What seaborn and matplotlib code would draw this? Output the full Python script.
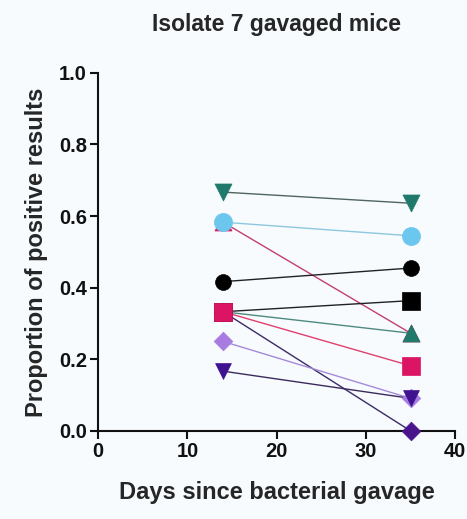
import numpy as np
import pandas as pd
import seaborn as sns
import matplotlib.pyplot as plt

# --- DATOS ---
days = [14, 35]
mice = ['M1', 'M2', 'M3', 'M4', 'M6', 'M5', 'M7', 'M8', 'M9', 'M10']
proportions = [
    [0.583, 0.273],   # M1 carmesí, triángulo
    [0.333, 0.000],   # M2 morado oscuro, rombo
    [0.333, 0.273],   # M3 verde azulado, triángulo
    [0.333, 0.364],   # M4 negro, cuadrado
    [0.250, 0.091],   # M6 lavanda, rombo
    [0.167, 0.091],   # M5 morado, triángulo invertido
    [0.417, 0.455],   # M7 negro, círculo
    [0.583, 0.545],   # M8 celeste, círculo
    [0.667, 0.636],   # M9 verde azulado, triángulo invertido
    [0.333, 0.182],   # M10 carmesí, cuadrado
]
marker_colors = ['#d81b60', '#4a148c', '#1f7a6c', '#000000', '#a77be0',
                 '#3f1390', '#000000', '#6cc7ef', '#1f7a6c', '#dc1464']
line_colors = ['#c2406e', '#3b2a66', '#4f8a80', '#222222', '#a58ad8',
               '#3c2a5c', '#222222', '#8cc8e0', '#506560', '#e0406e']
marker_styles = ['^', 'D', '^', 's', 'D', 'v', 'o', 'o', 'v', 's']
marker_sizes = [150, 90, 150, 150, 90, 130, 130, 170, 150, 170]

df = pd.DataFrame({
    'mouse': np.repeat(mice, len(days)),
    'day': days * len(mice),
    'prop': np.ravel(proportions),
})

sns.set_style('ticks')
plt.rcParams['font.family'] = ['Liberation Sans', 'DejaVu Sans']

fig = plt.figure(figsize=(4.67, 5.19), dpi=100, facecolor='#f7fbfd')
ax = fig.add_axes([0.21, 0.1696, 0.765, 0.69])
ax.set_facecolor('#f7fbfd')

for i, m in enumerate(mice):
    sub = df[df['mouse'] == m]
    sns.lineplot(data=sub, x='day', y='prop', ax=ax, color=line_colors[i],
                 linewidth=1.0, zorder=2 + i)
    sns.scatterplot(data=sub, x='day', y='prop', ax=ax, color=marker_colors[i],
                    marker=marker_styles[i], s=marker_sizes[i],
                    edgecolor=marker_colors[i], linewidth=0.5, zorder=20 + i,
                    clip_on=False)

ax.set_xlim(0, 40)
ax.set_ylim(0, 1.0)
ax.set_xticks([0, 10, 20, 30, 40])
ax.set_yticks([0, 0.2, 0.4, 0.6, 0.8, 1.0])
ax.set_yticklabels(['0.0', '0.2', '0.4', '0.6', '0.8', '1.0'])
sns.despine(ax=ax)
for s in ['left', 'bottom']:
    ax.spines[s].set_linewidth(1.5)
    ax.spines[s].set_color('#111111')
ax.tick_params(width=1.5, length=6, labelsize=14.5, colors='#111111', pad=2)
for lab in ax.get_xticklabels() + ax.get_yticklabels():
    lab.set_fontweight('bold')

ax.set_xlabel('Days since bacterial gavage', fontsize=17, fontweight='bold', labelpad=14)
ax.set_ylabel('Proportion of positive results', fontsize=17, fontweight='bold', labelpad=8)
ax.set_title('Isolate 7 gavaged mice', fontsize=16.5, fontweight='bold', pad=30)

plt.savefig('out.png', dpi=100, facecolor=fig.get_facecolor())
plt.close()
